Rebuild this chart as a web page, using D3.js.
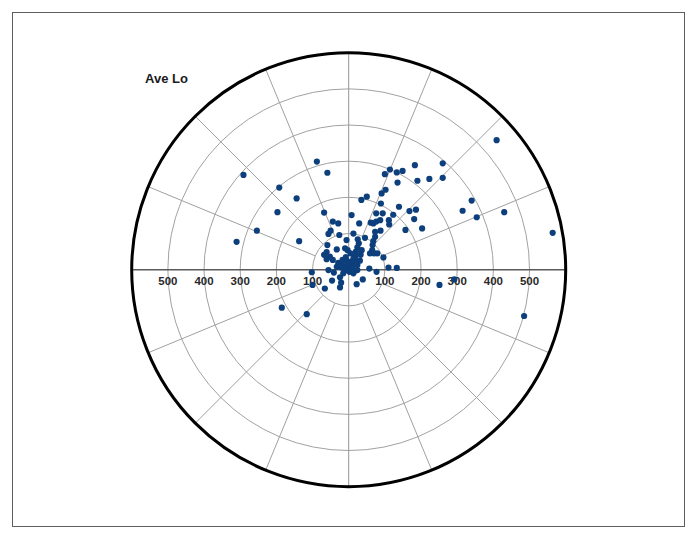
<!DOCTYPE html>
<html>
<head>
<meta charset="utf-8">
<script src="https://cdn.jsdelivr.net/npm/d3@7"></script>
<style>
  html, body { margin: 0; padding: 0; background: #ffffff; }
  svg { display: block; }
</style>
</head>
<body>
<svg id="chart" width="697" height="538"></svg>
<script>
// ---- data (east / north components, chart units) ----
const title = "Ave Lo";
const ringValues = [100, 200, 300, 400, 500];
const maxValue = 600;
const tickLabels = ["100", "200", "300", "400", "500"];
const spokeAngles = [0, 22.5, 45, 67.5, 90, 112.5, 135, 157.5, 180, 202.5, 225, 247.5, 270, 292.5, 315, 337.5];

const east = [
  -291, -192, -144, -197, -254, -310, -137, -88, -59,
  409, 114, 100, 133, 149, 183, 260, 135, 190, 223, 260, 340, 315, 354, 430, 564,
  102, 91, 50, 35, 89, 168, 186, 181, 203, 157, 123, 111, 112, 94, 76, 61, 68, 76, 87,
  88, 73, 73, 68, 66, 65, 59, 70, 79, 96, 45, 57, 77, 110, 133,
  8, 29, 25, 28, 24, 20, 18, 20, 24, 13, -6, -10, -3, -29, -44, -68, -50, -56, -26,
  -59, -33, -61, -68, -52, -61, -44, -29, -17, -6, 6, 2, -9, -20, -33, 4, -7, 13, -19,
  13, 31, 33, 36,
  -102, -100, -66, -46, -56, -24, -21, -24, -15, 2, 15, 24, 22, 39, 251, 292, 485, -185, -116, 13,
  139, -41, -12, 8, -3, 10, -25, 16, -8, 5
];
const north = [
  262, 227, 197, 159, 108, 77, 79, 299, 268,
  358, 277, 264, 269, 273, 289, 294, 241, 246, 251, 254, 191, 163, 145, 159, 102,
  221, 211, 202, 193, 183, 162, 166, 140, 114, 110, 152, 137, 125, 156, 156, 130, 128, 133, 137,
  108, 105, 91, 79, 68, 54, 45, 45, 45, 34, 88, 3, -6, 6, 5,
  151, 128, 84, 73, 62, 50, 38, 27, 13, 100, 82, 59, 54, 128, 133, 158, 108, 99, 96,
  68, 56, 49, 41, 36, 29, 27, 19, 27, 25, 22, 12, 8, 6, 8, 1, -1, 13, 16,
  31, 25, 41, 54,
  -7, -42, -52, -30, -1, -21, -36, -49, -10, -6, -4, -1, -40, -27, -42, -27, -128, -105, -123, -10,
  174, -8, 4, 6, 18, -2, 12, 20, 35, 45
];

// ---- layout ----
const W = 697, H = 538;
const cx = 348.7, cy = 269.7, R = 217;
const svg = d3.select("#chart");
const r = d3.scaleLinear().domain([0, maxValue]).range([0, R]);
const xs = d3.scaleLinear().domain([-maxValue, maxValue]).range([cx - R, cx + R]);
const ys = d3.scaleLinear().domain([-maxValue, maxValue]).range([cy + R, cy - R]);

// outer frame
svg.append("rect").attr("x", 12.5).attr("y", 12.5).attr("width", 672).attr("height", 514)
  .attr("fill", "none").attr("stroke", "#5e5e5e").attr("stroke-width", 1);

const g = svg.append("g");

// rings
g.selectAll("circle.ring").data(ringValues).join("circle")
  .attr("class", "ring").attr("cx", cx).attr("cy", cy).attr("r", d => r(d))
  .attr("fill", "none").attr("stroke", "#a2a2a2").attr("stroke-width", 1);

// spokes
g.selectAll("line.spoke").data(spokeAngles.filter(a => a % 90 !== 0)).join("line")
  .attr("class", "spoke")
  .attr("x1", a => cx + r(ringValues[0]) * Math.cos(a * Math.PI / 180))
  .attr("y1", a => cy - r(ringValues[0]) * Math.sin(a * Math.PI / 180))
  .attr("x2", a => cx + R * Math.cos(a * Math.PI / 180))
  .attr("y2", a => cy - R * Math.sin(a * Math.PI / 180))
  .attr("stroke", "#a0a0a0").attr("stroke-width", 1);

// vertical axis
g.append("line").attr("x1", cx).attr("x2", cx).attr("y1", cy - R).attr("y2", cy + R)
  .attr("stroke", "#959595").attr("stroke-width", 1);
// horizontal axis
g.append("line").attr("x1", cx - R).attr("x2", cx + R).attr("y1", cy).attr("y2", cy)
  .attr("stroke", "#5a5a5a").attr("stroke-width", 1.5);

// tick labels
const labelData = [];
ringValues.forEach((v, i) => {
  labelData.push({ x: xs(v), t: tickLabels[i] });
  labelData.push({ x: xs(-v), t: tickLabels[i] });
});
g.selectAll("text.tick").data(labelData).join("text")
  .attr("class", "tick").attr("x", d => d.x).attr("y", cy + 15)
  .attr("text-anchor", "middle")
  .attr("font-family", "Liberation Sans, Arial, sans-serif")
  .attr("font-weight", "bold").attr("font-size", 11.5).attr("fill", "#2a2a2a")
  .text(d => d.t);

// outer circle
g.append("circle").attr("cx", cx).attr("cy", cy).attr("r", R)
  .attr("fill", "none").attr("stroke", "#000").attr("stroke-width", 3);

// points
const pts = east.map((e, i) => ({ e, n: north[i] }));
g.selectAll("circle.pt").data(pts).join("circle")
  .attr("class", "pt").attr("cx", d => xs(d.e)).attr("cy", d => ys(d.n))
  .attr("r", 3.1).attr("fill", "#0c3f7c");

// title
svg.append("text").attr("x", 145).attr("y", 83)
  .attr("font-family", "Liberation Sans, Arial, sans-serif")
  .attr("font-weight", "bold").attr("font-size", 13).attr("fill", "#1a1a1a")
  .text(title);
</script>
</body>
</html>
